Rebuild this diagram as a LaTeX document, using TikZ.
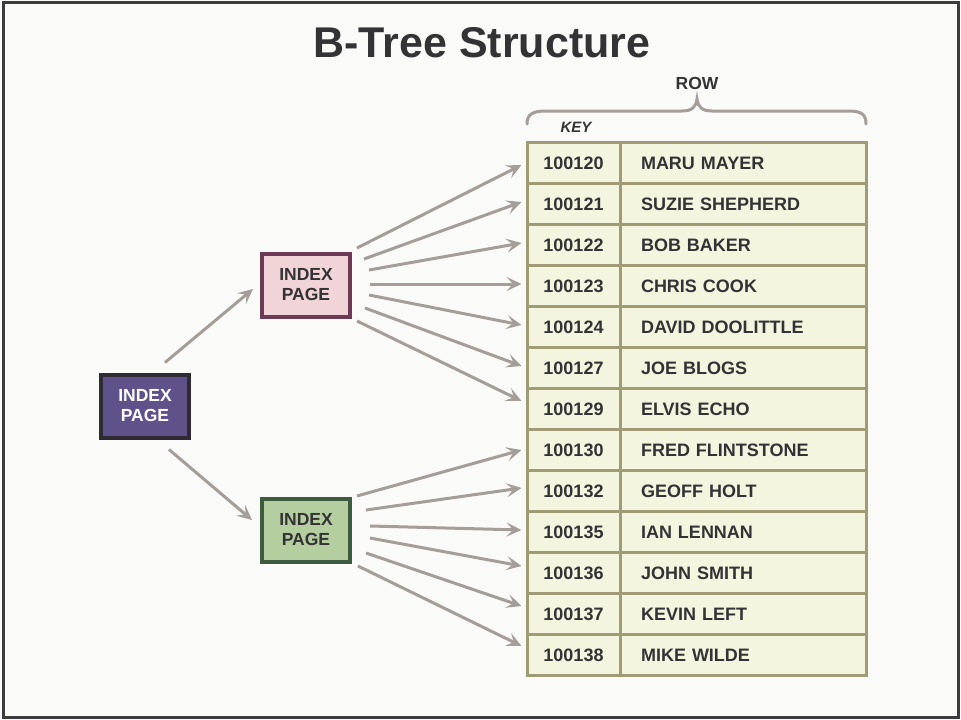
\documentclass[tikz,border=0pt]{standalone}
\usepackage{fontspec}
\setmainfont{Liberation Sans}
\usetikzlibrary{arrows.meta,calc}
\definecolor{bgc}{HTML}{FAFAF8}
\definecolor{framec}{HTML}{3C3C3E}
\definecolor{txt}{HTML}{333335}
\definecolor{arrc}{HTML}{A59D98}
\definecolor{purfill}{HTML}{5F528A}
\definecolor{purdraw}{HTML}{2F2B35}
\definecolor{pinkfill}{HTML}{F0D4D7}
\definecolor{pinkdraw}{HTML}{6C3A52}
\definecolor{grnfill}{HTML}{B4CEA0}
\definecolor{grndraw}{HTML}{3E5B40}
\definecolor{tabfill}{HTML}{F3F5DF}
\definecolor{tabdraw}{HTML}{9F9B74}
\begin{document}
\begin{tikzpicture}[x=1pt,y=-1pt,
  idx/.style={draw, line width=4pt, minimum width=88pt, minimum height=63pt, inner sep=0pt,
    align=center, font=\fontsize{17.5}{20}\selectfont\bfseries},
  keycell/.style={draw=tabdraw, fill=tabfill, line width=3pt, minimum width=93pt, minimum height=41pt,
    inner sep=0pt, text=txt, font=\fontsize{18}{20}\selectfont\bfseries},
  namecell/.style={draw=tabdraw, fill=tabfill, line width=3pt, minimum width=246pt, minimum height=41pt,
    inner xsep=21pt, inner ysep=0pt, text width=204pt, align=left, text=txt, font=\fontsize{18}{20}\selectfont\bfseries},
  arr/.style={draw=arrc, line width=3pt, -{Stealth[length=15pt,width=14pt,inset=6.5pt]}},
  brace/.style={draw=arrc, line width=3pt, line cap=round}
]
\useasboundingbox (0,0) rectangle (961,720);
\fill[bgc] (0,0) rectangle (961,720);
\draw[framec, line width=3pt] (3.5,2.5) rectangle (958.5,717.5);

\node[text=txt, font=\fontsize{43}{48}\selectfont\bfseries, anchor=base] (title) at (482,57) {B-Tree Structure};

\node[text=txt, font=\fontsize{17.5}{20}\selectfont\bfseries] (rowlbl) at (697,83) {ROW};
\node[text=txt, font=\fontsize{15}{18}\selectfont\bfseries\itshape] (keylbl) at (576,127) {KEY};
\draw[brace] (527,124) .. controls (527,114) and (533,111) .. (546,111) -- (682,111)
  .. controls (692,111) and (696,107) .. (697,99)
  .. controls (698,107) and (702,111) .. (712,111) -- (848,111)
  .. controls (861,111) and (866,114) .. (866,124);

\foreach \i/\k/\n in {1/100120/MARU MAYER, 2/100121/SUZIE SHEPHERD, 3/100122/BOB BAKER,
  4/100123/CHRIS COOK, 5/100124/DAVID DOOLITTLE, 6/100127/JOE BLOGS, 7/100129/ELVIS ECHO,
  8/100130/FRED FLINTSTONE, 9/100132/GEOFF HOLT, 10/100135/IAN LENNAN, 11/100136/JOHN SMITH,
  12/100137/KEVIN LEFT, 13/100138/MIKE WILDE}{
  \pgfmathsetmacro{\yy}{163+41*(\i-1)}
  \node[keycell] (k\i) at (573.5,\yy) {\k};
  \node[namecell] (n\i) at (743,\yy) {\n};
}

\node[idx, draw=purdraw, fill=purfill, text=white] (root) at (145,406) {INDEX\\PAGE};
\node[idx, draw=pinkdraw, fill=pinkfill, text=txt] (pink) at (306,285) {INDEX\\PAGE};
\node[idx, draw=grndraw, fill=grnfill, text=txt] (green) at (306,530) {INDEX\\PAGE};

\draw[arr] ($(root.north east)+(-26,-10)$) -- ($(pink.west)+(-7,4)$);
\draw[arr] ($(root.south east)+(-22,10)$) -- ($(green.west)+(-8,-10)$);

\foreach \i/\sx/\sy/\ey in {1/51/-37/2, 2/58/-26/-2, 3/63/-15/-2, 4/64/-1/-2, 5/63/10/-2, 6/59/23/-2, 7/51/36/-8}{
  \draw[arr] ($(pink.center)+(\sx,\sy)$) -- ($(k\i.west)+(-4,\ey)$);
}
\foreach \i/\sx/\sy/\ey in {8/51/-34/0, 9/60/-20/-3, 10/64/-4/-2, 11/64/8/-7, 12/60/23/-8, 13/52/36/-9}{
  \draw[arr] ($(green.center)+(\sx,\sy)$) -- ($(k\i.west)+(-4,\ey)$);
}
\end{tikzpicture}
\end{document}
